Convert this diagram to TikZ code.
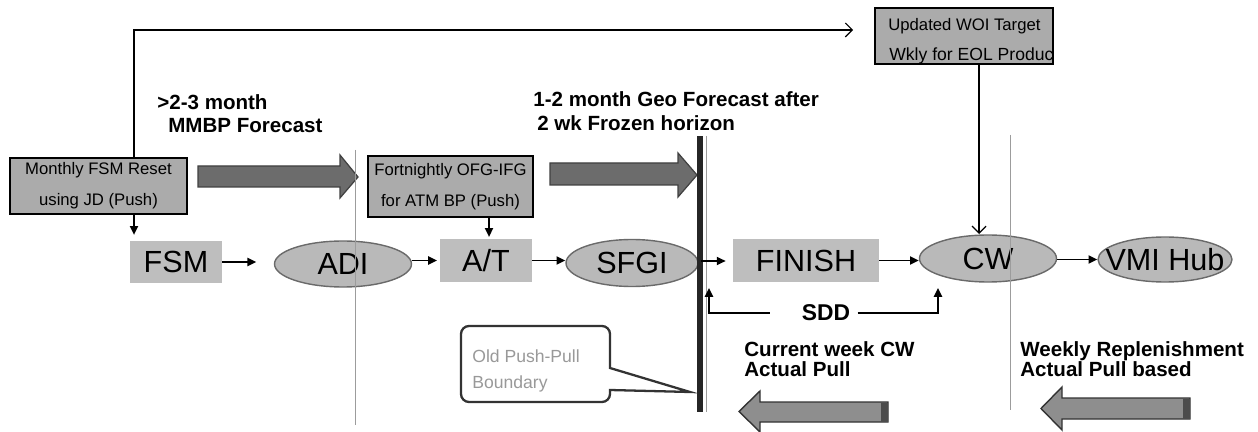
\documentclass[tikz,border=0pt]{standalone}
\usepackage{fontspec}
\setmainfont{Liberation Sans}
\usetikzlibrary{arrows.meta,shapes.geometric}

\definecolor{boxgray}{HTML}{ABABAB}
\definecolor{cellgray}{HTML}{BEBEBE}
\definecolor{ovalgray}{HTML}{B9B9B9}
\definecolor{ovaledge}{HTML}{6A6A6A}
\definecolor{bigarrow}{HTML}{6C6C6C}
\definecolor{pullarrow}{HTML}{8E8E8E}
\definecolor{guide}{HTML}{9C9C9C}

\newcommand\ovaltext[1]{\makebox[0pt]{#1}}

\tikzset{
  note/.style={draw=black, line width=0.8pt, fill=boxgray, inner sep=0pt,
    font=\fontsize{9.5}{17.6}\selectfont, align=center},
  cell/.style={fill=cellgray, inner sep=0pt, minimum height=0.86cm,
    font=\fontsize{17.4}{20}\selectfont},
  oval/.style={ellipse, draw=ovaledge, line width=0.8pt, fill=ovalgray,
    inner sep=0pt, font=\fontsize{17.4}{20}\selectfont},
  conn/.style={line width=1pt, -{Triangle[length=5pt,width=4.6pt]}},
  feed/.style={line width=0.7pt, -{Straight Barb[length=4pt,width=8pt]}},
  divider/.style={draw=guide, line width=0.5pt},
  caption/.style={font=\bfseries\fontsize{11.7}{14}\selectfont,
    anchor=base west, inner sep=0pt},
  ghost/.style={font=\fontsize{10}{12}\selectfont, text=black!40,
    anchor=base west, inner sep=0pt},
  push/.style={fill=bigarrow, draw=black!75, line width=0.7pt},
  pull/.style={fill=pullarrow, draw=black!80, line width=0.8pt},
}

\begin{document}
\begin{tikzpicture}[x=0.02cm, y=-0.02cm]
\useasboundingbox (0,0) rectangle (1258,432);

% ---- planning notes ----
\node[note, minimum width=3.54cm, minimum height=1.12cm] (mfsm) at (98.5,186)
  {Monthly FSM Reset\\using JD (Push)};
\node[note, minimum width=3.30cm, minimum height=1.22cm] (fort) at (450.5,186.5)
  {Fortnightly OFG-IFG\\for ATM BP (Push)};
\node[note, minimum width=3.56cm, minimum height=1.12cm] (woi) at (964,36) {};
\begin{scope}
  \clip (woi.south west) rectangle (woi.north east);
  \node[anchor=base west, inner sep=0pt, font=\fontsize{9.5}{12}\selectfont]
    (woia) at (888,31) {Updated WOI Target};
  \node[anchor=base west, inner sep=0pt, font=\fontsize{10}{12}\selectfont]
    (woib) at (889,61) {Wkly for EOL Product};
\end{scope}

% ---- forecast captions ----
\node[caption] (capa1) at (157,110) {>2-3 month};
\node[caption] (capa2) at (168,133) {MMBP Forecast};
\node[caption] (capb1) at (533,107) {1-2 month Geo Forecast after};
\node[caption] (capb2) at (537,131) {2 wk Frozen horizon};
\node[caption] (capc1) at (744,357) {Current week CW};
\node[caption] (capc2) at (744,377) {Actual Pull};
\node[caption] (capd1) at (1020,357) {Weekly Replenishment};
\node[caption] (capd2) at (1020,377) {Actual Pull based};

% ---- wide push arrows ----
\draw[push] (198,166) -- (340,166) -- (340,155) -- (358,177) -- (340,198)
  -- (340,187) -- (198,187) -- cycle;
\draw[push] (550,163) -- (678,163) -- (678,153) -- (697,175) -- (678,197)
  -- (678,185) -- (550,185) -- cycle;

% ---- wide pull arrows ----
\draw[pull] (888,402) -- (760,402) -- (760,391) -- (739,411.5) -- (760,432)
  -- (760,422) -- (888,422) -- cycle;
\fill[black!70] (881,402.5) rectangle (887.5,421.5);
\draw[pull] (1190,398) -- (1062,398) -- (1062,387) -- (1041,408.5) -- (1062,430)
  -- (1062,419) -- (1190,419) -- cycle;
\fill[black!70] (1183,398.5) rectangle (1189.5,418.5);

% ---- supply chain stages ----
\node[cell, minimum width=1.84cm] (fsm) at (176,262) {FSM};
\node[oval, minimum width=2.74cm, minimum height=0.92cm] (adi) at (343,264) {\ovaltext{ADI}};
\node[cell, minimum width=1.84cm] (at) at (486,260.5) {A/T};
\node[oval, minimum width=2.64cm, minimum height=0.94cm] (sfgi) at (632,263) {\ovaltext{SFGI}};
\node[cell, minimum width=2.92cm] (finish) at (806,260.5) {FINISH};
\node[oval, minimum width=2.74cm, minimum height=0.94cm] (cw) at (988,258.5) {\ovaltext{CW}};
\node[oval, minimum width=2.68cm, minimum height=0.90cm] (vmi) at (1165,259.5) {\ovaltext{VMI Hub}};

% ---- period dividers ----
\draw[divider] (355,150) -- (355,425);
\draw[divider] (706,136) -- (706,412);
\draw[divider] (1010,135) -- (1010,410);

% ---- push-pull boundary bar ----
\fill[black!85] (697,136) rectangle (703,412);
\coordinate (bar) at (701,261);

% ---- flow connectors ----
\draw[conn, shorten >=10pt] (fsm.east) -- (fsm.east -| adi.west);
\draw[conn, shorten >=1.5pt] (adi.east |- at.west) -- (at.west);
\draw[conn] (at.east) -- (at.east -| sfgi.west);
\draw[conn, shorten >=4pt] (bar) -- (bar -| finish.west);
\draw[conn] (finish.east) -- (finish.east -| cw.west);
\draw[conn] (cw.east |- vmi.west) -- (vmi.west);
\draw[conn, shorten >=3pt] (mfsm.south -| 134,0) -- (fsm.north -| 134,0);
\draw[conn, shorten >=1pt] (fort.south -| 489,0) -- (at.north -| 489,0);

% ---- feedback to WOI target ----
\coordinate (loop) at (134,30);
\draw[feed, shorten >=12pt] (mfsm.north -| loop) -- (loop) -- (loop -| woi.west);
\coordinate (woidrop) at (979,234);
\draw[feed] (woi.south -| woidrop) -- (woidrop);

% ---- SDD signal ----
\node[font=\bfseries\fontsize{13}{15}\selectfont, inner sep=0pt] (sdd) at (826,313) {SDD};
\coordinate (sddcw) at (938,288);
\coordinate (sddbar) at (709,288);
\draw[conn, shorten <=4pt] (sdd.east) -| (sddcw);
\draw[conn, shorten <=18pt] (sdd.west) -| (sddbar);

% ---- old boundary callout ----
\draw[line width=1.3pt, draw=black!80, fill=white]
  (610,368) [rounded corners=0.16cm] -- (610,326) -- (461,326) -- (461,402)
  -- (610,402) [sharp corners] -- (610,390) -- (690,392) -- cycle;
\node[ghost] (olda) at (472,362) {Old Push-Pull};
\node[ghost] (oldb) at (472,388) {Boundary};
\end{tikzpicture}
\end{document}
